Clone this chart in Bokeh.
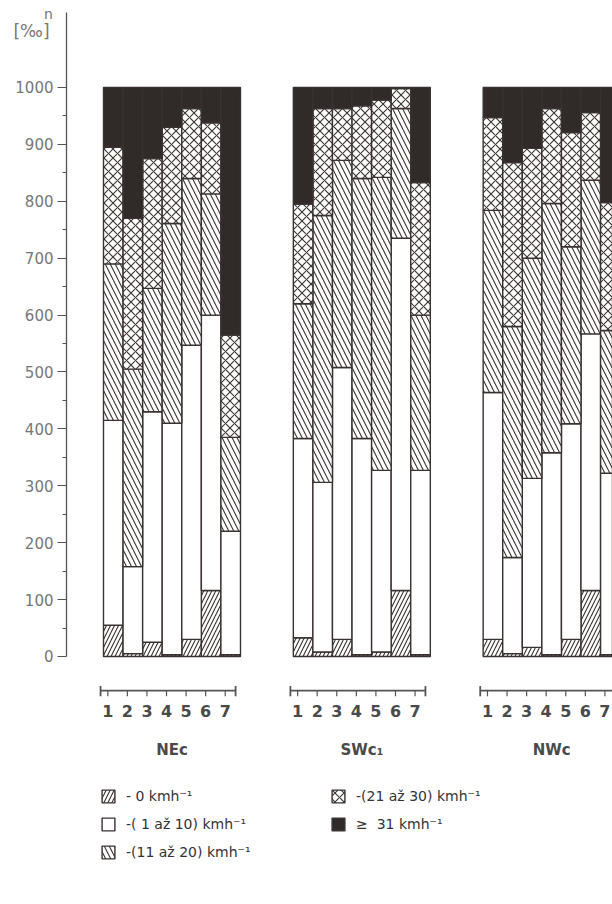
from bokeh.plotting import figure
from bokeh.models import (ColumnDataSource, Legend, LegendItem, Range1d,
                          FixedTicker, Label)
from bokeh.embed import file_html
from bokeh.resources import INLINE
from bokeh.core.properties import value

# ---------------- data (per mille, each bar sums to 1000) ----------------
groups = ["NEc", "SWc₁", "NWc"]
bar_labels = ["1", "2", "3", "4", "5", "6", "7"]
layer_names = ["calm", "v1_10", "v11_20", "v21_30", "v31"]
legend_labels = ["- 0 kmh⁻¹", "-( 1 až 10) kmh⁻¹", "-(11 až 20) kmh⁻¹",
                 "-(21 až 30) kmh⁻¹", "≥  31 kmh⁻¹"]
y_ticks = [0, 100, 200, 300, 400, 500, 600, 700, 800, 900, 1000]

calm_nec = [55, 5, 25, 3, 30, 116, 3]
v1_10_nec = [360, 153, 405, 407, 517, 484, 217]
v11_20_nec = [275, 347, 217, 351, 293, 213, 165]
v21_30_nec = [205, 265, 228, 169, 123, 125, 180]
v31_nec = [105, 230, 125, 70, 37, 62, 435]

calm_swc = [33, 8, 30, 3, 8, 116, 3]
v1_10_swc = [350, 298, 478, 380, 319, 619, 324]
v11_20_swc = [237, 469, 364, 457, 515, 228, 273]
v21_30_swc = [175, 188, 91, 128, 136, 35, 233]
v31_swc = [205, 37, 37, 32, 22, 2, 167]

calm_nwc = [30, 5, 16, 3, 30, 116, 3]
v1_10_nwc = [434, 169, 297, 355, 379, 451, 319]
v11_20_nwc = [320, 406, 387, 438, 311, 270, 251]
v21_30_nwc = [163, 288, 193, 167, 201, 119, 225]
v31_nwc = [53, 132, 107, 37, 79, 44, 202]

# ---------------- layout helpers ----------------
bar_px = 19.57
x0 = 0.5 - 103 / bar_px            # frame starts at the canvas' left edge
x1 = x0 + 612 / bar_px
axis_x = x0 + 66 / bar_px          # y axis drawn at a fixed spot
group_step = 9.7                   # distance between groups, in bar widths
axis_y = -60                       # custom category axis line
num_y = -95
grp_y = -165
num_shift = -0.28

xs = []
for g in range(len(groups)):
    for i in range(len(bar_labels)):
        xs.append(g * group_step + i + 1)

src = ColumnDataSource(dict(
    x=xs,
    calm=calm_nec + calm_swc + calm_nwc,
    v1_10=v1_10_nec + v1_10_swc + v1_10_nwc,
    v11_20=v11_20_nec + v11_20_swc + v11_20_nwc,
    v21_30=v21_30_nec + v21_30_swc + v21_30_nwc,
    v31=v31_nec + v31_swc + v31_nwc,
))

ink = "#3a3230"
dark = "#302b29"

p = figure(width=612, height=904,
           x_range=Range1d(x0, x1), y_range=Range1d(-435.9, 1152.9),
           output_backend="svg", toolbar_location=None, x_axis_location=None,
           min_border_left=0, min_border_right=0, min_border_top=0,
           min_border_bottom=0)
p.outline_line_color = None
p.grid.visible = False
p.background_fill_color = "white"

renderers = p.vbar_stack(
    layer_names, x="x", width=1.0, source=src,
    fill_color=["white", "white", "white", "white", dark],
    hatch_pattern=["/", " ", "\\", "x", " "],
    hatch_color=ink, hatch_scale=[8, 8, 10, 9, 8], hatch_weight=1.1,
    line_color=ink, line_width=1.4,
)

# y axis, drawn at a fixed location inside the frame
ya = p.yaxis[0]
ya.fixed_location = axis_x
ya.ticker = FixedTicker(ticks=y_ticks, minor_ticks=list(range(50, 1000, 100)))
ya.bounds = (0, 1132)
ya.axis_line_color = "#555"
ya.axis_line_width = 1.3
ya.major_tick_line_color = "#555"
ya.minor_tick_line_color = "#555"
ya.major_tick_out = 9
ya.major_tick_in = 0
ya.minor_tick_out = 4
ya.minor_tick_in = 0
ya.major_label_standoff = 4
ya.major_label_text_font = "DejaVu Sans"
ya.major_label_text_font_size = "15px"
ya.major_label_text_color = "#777"

# custom category axis under each group
seg_x0, seg_x1 = [], []
num_x, num_t, grp_x, end_x = [], [], [], []
for g in range(len(groups)):
    left = g * group_step + 0.35
    right = g * group_step + 7.25
    seg_x0.append(left)
    seg_x1.append(right)
    end_x += [left, right]
    grp_x.append(g * group_step + 4)
    for i in range(len(bar_labels)):
        num_x.append(g * group_step + i + 1 + num_shift)
        num_t.append(bar_labels[i])

p.segment(x0=seg_x0, x1=seg_x1, y0=[axis_y] * 3, y1=[axis_y] * 3,
          line_color="#555", line_width=1.6)
p.segment(x0=num_x, x1=num_x, y0=[axis_y] * len(num_x),
          y1=[axis_y - 10] * len(num_x), line_color="#555", line_width=1.2)
p.segment(x0=end_x, x1=end_x, y0=[axis_y + 8] * len(end_x),
          y1=[axis_y - 10] * len(end_x), line_color="#555", line_width=1.8)

p.text(x=num_x, y=[num_y] * len(num_x), text=num_t,
       text_font=value("DejaVu Sans"), text_font_size="16px",
       text_font_style="bold", text_color="#4a4a4a",
       text_align="center", text_baseline="middle")
p.text(x=grp_x, y=[grp_y] * 3, text=groups,
       text_font=value("DejaVu Sans"), text_font_size="15px",
       text_font_style="bold", text_color="#4a4a4a",
       text_align="center", text_baseline="middle")

# unit label at the top of the y axis
p.add_layout(Label(x=x0 + 48 / bar_px, y=1130, text="n",
                   text_font="DejaVu Sans", text_font_size="14px",
                   text_color="#777", text_baseline="middle",
                   text_align="center"))
p.add_layout(Label(x=x0 + 31 / bar_px, y=1100, text="[‰]",
                   text_font="DejaVu Sans", text_font_size="17px",
                   text_color="#777", text_baseline="middle",
                   text_align="center"))

# legends
items = [LegendItem(label=legend_labels[k], renderers=[renderers[k]])
         for k in range(5)]


def make_legend(its, loc):
    return Legend(items=its, location=loc, orientation="vertical",
                  padding=0, margin=0, spacing=12, glyph_width=16,
                  glyph_height=16, label_height=16, label_standoff=10,
                  label_text_font="DejaVu Sans", label_text_font_size="14px",
                  label_text_color="#333", background_fill_alpha=0,
                  border_line_color=None)


p.add_layout(make_legend(items[:3], (100, 44)))
p.add_layout(make_legend(items[3:], (330, 72)))

open("out.html", "w").write(file_html(p, INLINE))
